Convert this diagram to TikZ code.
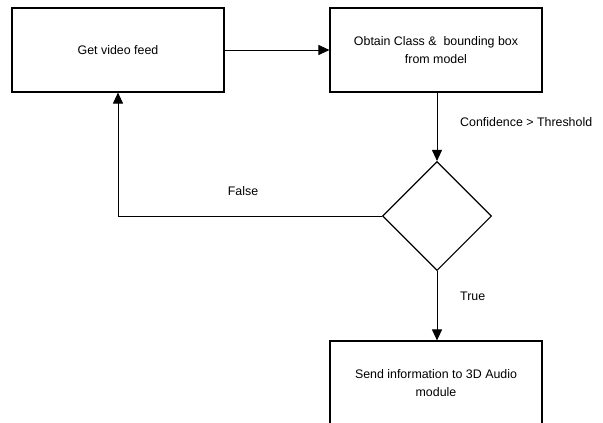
\documentclass[tikz,border=0pt]{standalone}
\usepackage{fontspec}
\setmainfont{Liberation Sans}
\usetikzlibrary{arrows.meta,shapes.geometric}
\begin{document}
\begin{tikzpicture}[x=1pt,y=-1pt,
  box/.style={draw,line width=1.1pt,minimum width=212pt,minimum height=84pt,inner sep=0pt,align=center,font=\fontsize{12.4}{18}\selectfont},
  dec/.style={draw,line width=1.1pt,diamond,minimum width=109pt,minimum height=109pt,inner sep=0pt},
  conn/.style={line width=0.9pt,-{Triangle[length=11pt,width=10pt]}},
  lab/.style={font=\fontsize{12.4}{14}\selectfont,inner sep=0pt}]
\useasboundingbox (0,0) rectangle (603,423);
\node[box] (feed) at (118,50) {Get video feed};
\node[box] (model) at (436,50) {Obtain Class \&\ \ bounding box\\from model};
\node[dec] (cond) at (437,216) {};
\node[box] (send) at (436,383) {Send information to 3D Audio\\module};
\draw[conn] (feed.east) -- (model.west);
\draw[conn] (model.south -| cond.north) -- (cond.north);
\draw[conn] (cond.west) -| (feed.south);
\draw[conn] (cond.south) -- (send.north -| cond.south);
\node[lab,anchor=west] (conf) at (460,122) {Confidence > Threshold};
\node[lab] (false) at (243,191) {False};
\node[lab,anchor=west] (true) at (460,296) {True};
\end{tikzpicture}
\end{document}
